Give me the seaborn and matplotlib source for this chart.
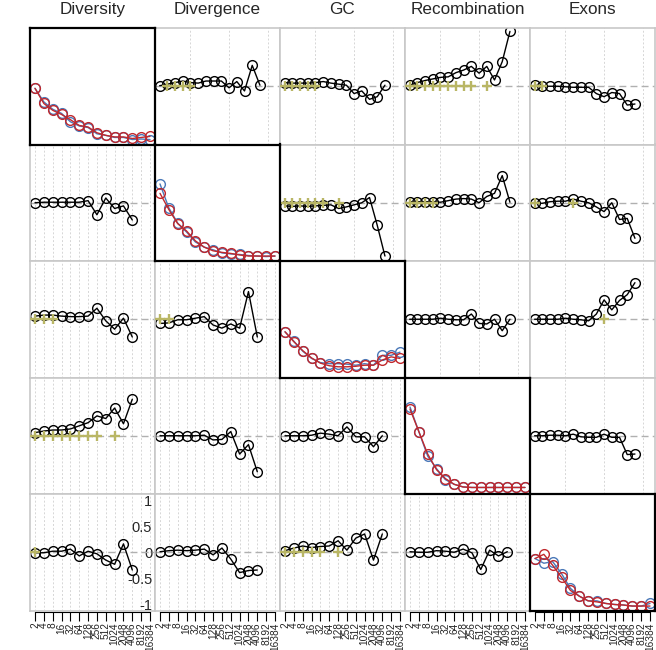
import numpy as np
import matplotlib.pyplot as plt
import seaborn as sns

features = ["Diversity", "Divergence", "GC", "Recombination", "Exons"]
scale_labels = ["2", "4", "8", "16", "32", "64", "128", "256", "512",
                "1024", "2048", "4096", "8192", "16384"]

# diagonal panels (14 scales): blue and red series
diag_red_diversity = [-0.04, -0.33, -0.46, -0.54, -0.64, -0.75, -0.78, -0.89, -0.94, -0.97, -0.97, -1.00, -0.98, -0.96]
diag_blue_diversity = [-0.04, -0.30, -0.44, -0.52, -0.68, -0.76, -0.79, -0.91, -0.94, -0.98, -0.98, -1.02, -1.01, -1.02]
diag_red_divergence = [0.18, -0.13, -0.40, -0.54, -0.73, -0.85, -0.92, -0.95, -0.97, -1.00, -1.02, -1.02, -1.02, -1.02]
diag_blue_divergence = [0.36, -0.10, -0.39, -0.56, -0.75, -0.85, -0.90, -0.96, -0.98, -0.99, -1.01, -1.02, -1.03, -1.02]
diag_red_gc = [-0.24, -0.43, -0.60, -0.74, -0.84, -0.89, -0.91, -0.91, -0.90, -0.88, -0.88, -0.78, -0.72, -0.75]
diag_blue_gc = [-0.24, -0.42, -0.61, -0.75, -0.83, -0.85, -0.85, -0.86, -0.88, -0.85, -0.88, -0.69, -0.69, -0.63]
diag_red_recomb = [0.51, 0.08, -0.35, -0.65, -0.82, -0.93, -0.98, -0.99, -0.99, -0.99, -0.99, -0.99, -0.99, -0.99]
diag_blue_recomb = [0.55, 0.08, -0.39, -0.63, -0.84, -0.93, -0.98, -0.99, -0.99, -0.99, -0.99, -0.99, -0.99, -0.99]
diag_red_exons = [-0.12, -0.04, -0.25, -0.48, -0.73, -0.84, -0.93, -0.95, -0.98, -1.00, -1.01, -1.03, -1.03, -1.03]
diag_blue_exons = [-0.12, -0.21, -0.18, -0.41, -0.69, -0.84, -0.93, -0.93, -0.98, -1.00, -1.01, -1.03, -1.03, -0.98]

# upper triangle (14 points each)
up_div_dvg = [0.01, 0.04, 0.07, 0.10, 0.07, 0.06, 0.10, 0.10, 0.10, -0.03, 0.09, -0.09, 0.40, 0.02]
up_div_gc = [0.07, 0.06, 0.06, 0.06, 0.07, 0.09, 0.06, 0.04, 0.02, -0.14, -0.09, -0.25, -0.20, 0.02]
up_div_rec = [0.02, 0.07, 0.11, 0.14, 0.17, 0.18, 0.26, 0.31, 0.38, 0.25, 0.38, 0.12, 0.47, 1.05]
up_div_exo = [0.02, 0.00, 0.00, 0.00, -0.01, -0.02, -0.02, -0.02, -0.14, -0.20, -0.12, -0.14, -0.36, -0.34]
up_dvg_gc = [-0.06, -0.07, -0.06, -0.07, -0.06, -0.05, -0.04, -0.11, -0.08, -0.04, 0.00, 0.10, -0.43, -1.02]
up_dvg_rec = [0.02, 0.02, 0.02, 0.02, 0.01, 0.04, 0.07, 0.08, 0.07, 0.00, 0.12, 0.18, 0.52, 0.01]
up_dvg_exo = [-0.01, -0.01, 0.02, 0.03, 0.03, 0.07, 0.03, 0.00, -0.08, -0.17, 0.00, -0.32, -0.30, -0.68]
up_gc_rec = [0.00, 0.00, 0.00, 0.00, 0.02, 0.00, -0.01, -0.01, 0.10, -0.08, -0.09, 0.00, -0.22, 0.00]
up_gc_exo = [0.00, 0.00, 0.00, 0.00, 0.02, 0.00, -0.01, -0.03, 0.10, 0.37, 0.18, 0.36, 0.47, 0.70]
up_rec_exo = [0.00, 0.00, 0.01, 0.01, 0.00, 0.03, -0.02, -0.03, -0.03, 0.03, -0.03, -0.03, -0.36, -0.35]

# lower triangle (12 points each, scales 2..4096)
lo_dvg_div = [0.00, 0.01, 0.01, 0.01, 0.01, 0.01, 0.04, -0.23, 0.09, -0.11, -0.06, -0.33]
lo_gc_div = [0.06, 0.08, 0.08, 0.06, 0.05, 0.05, 0.06, 0.21, -0.03, -0.19, 0.02, -0.34]
lo_gc_dvg = [-0.08, -0.07, -0.01, -0.01, 0.02, 0.05, -0.11, -0.17, -0.09, -0.17, 0.53, -0.34]
lo_rec_div = [0.06, 0.09, 0.11, 0.11, 0.13, 0.19, 0.25, 0.38, 0.33, 0.53, 0.23, 0.70]
lo_rec_dvg = [0.00, 0.00, 0.00, 0.00, 0.00, 0.01, -0.08, -0.07, 0.08, -0.35, -0.17, -0.69]
lo_rec_gc = [0.00, 0.00, 0.00, 0.01, 0.05, 0.03, 0.00, 0.17, -0.02, -0.02, -0.21, 0.00]
lo_exo_div = [-0.01, -0.01, 0.02, 0.02, 0.06, -0.07, 0.02, -0.03, -0.15, -0.23, 0.16, -0.34]
lo_exo_dvg = [0.01, 0.03, 0.04, 0.03, 0.04, 0.06, -0.05, 0.08, -0.13, -0.39, -0.35, -0.34]
lo_exo_gc = [0.03, 0.08, 0.12, 0.09, 0.11, 0.12, 0.22, 0.04, 0.27, 0.35, -0.15, 0.35]
lo_exo_rec = [0.01, 0.00, 0.00, 0.03, 0.02, 0.00, 0.06, -0.01, -0.33, 0.04, -0.07, 0.01]

# scale indices (0-based) marked with "+"
plus_div_dvg = [1, 2, 3, 4]
plus_div_gc = [0, 1, 2, 3, 4]
plus_div_rec = [0, 1, 2, 3, 4, 5, 6, 7, 8, 10]
plus_div_exo = [0, 1]
plus_dvg_gc = [0, 1, 2, 3, 4, 5, 7]
plus_dvg_rec = [0, 1, 2, 3]
plus_dvg_exo = [0, 5]
plus_gc_exo = [9]
plus_gc_div = [0, 1, 2]
plus_gc_dvg = [0, 1]
plus_rec_div = [0, 1, 2, 3, 4, 5, 6, 7, 9]
plus_exo_div = [0]
plus_exo_gc = [0, 1, 2, 3, 4, 6]

diag_red = [diag_red_diversity, diag_red_divergence, diag_red_gc, diag_red_recomb, diag_red_exons]
diag_blue = [diag_blue_diversity, diag_blue_divergence, diag_blue_gc, diag_blue_recomb, diag_blue_exons]
off_diag = {
    (0, 1): (up_div_dvg, plus_div_dvg), (0, 2): (up_div_gc, plus_div_gc),
    (0, 3): (up_div_rec, plus_div_rec), (0, 4): (up_div_exo, plus_div_exo),
    (1, 2): (up_dvg_gc, plus_dvg_gc), (1, 3): (up_dvg_rec, plus_dvg_rec),
    (1, 4): (up_dvg_exo, plus_dvg_exo), (2, 3): (up_gc_rec, []),
    (2, 4): (up_gc_exo, plus_gc_exo), (3, 4): (up_rec_exo, []),
    (1, 0): (lo_dvg_div, []), (2, 0): (lo_gc_div, plus_gc_div),
    (2, 1): (lo_gc_dvg, plus_gc_dvg), (3, 0): (lo_rec_div, plus_rec_div),
    (3, 1): (lo_rec_dvg, []), (3, 2): (lo_rec_gc, []),
    (4, 0): (lo_exo_div, plus_exo_div), (4, 1): (lo_exo_dvg, []),
    (4, 2): (lo_exo_gc, plus_exo_gc), (4, 3): (lo_exo_rec, []),
}

sns.set_style('white')
plt.rcParams['font.family'] = ['Liberation Sans', 'DejaVu Sans']

RED = '#c0282d'
BLUE = '#4a78b8'
OLIVE = '#b9b665'
FRAME = '#c8c8c8'
lower_xlim = (0.435, 14.565)
upper_xlim = (0.4, 16.6)
ylim = (-1.115, 1.115)
x_scales = np.arange(1, 15)

fig, axes = plt.subplots(5, 5, figsize=(6.56, 6.5), dpi=100)
fig.subplots_adjust(left=30/656, right=655/656, top=1-28/650, bottom=1-610.5/650,
                    wspace=0, hspace=0)

line_kw = dict(marker='o', markersize=7.0, markerfacecolor='none',
               markeredgewidth=1.0, linewidth=1.0)

for r in range(5):
    for c in range(5):
        ax = axes[r, c]
        ax.set_ylim(ylim)
        ax.set_xticks([])
        ax.set_yticks([])
        if r == c:
            ax.set_xlim(lower_xlim)
            sns.lineplot(x=x_scales, y=diag_blue[r], ax=ax, color=BLUE,
                         markeredgecolor=BLUE, **line_kw)
            sns.lineplot(x=x_scales, y=diag_red[r], ax=ax, color=RED,
                         markeredgecolor=RED, **line_kw)
            for s in ax.spines.values():
                s.set_color('black')
                s.set_linewidth(1.6)
            ax.set_zorder(2)
        else:
            vals, plus_idx = off_diag[(r, c)]
            xs = np.arange(1, len(vals) + 1)
            if r < c:
                ax.set_xlim(upper_xlim)
                grid_x = [5, 10, 15]
            else:
                ax.set_xlim(lower_xlim)
                grid_x = x_scales
            for g in grid_x:
                ax.axvline(g, color='#d6d6d6', linestyle=(0, (2, 2)), linewidth=0.7, zorder=0)
            ax.axhline(0, color='#b0b0b0', linestyle=(0, (5, 3)), linewidth=1.0, zorder=1)
            sns.lineplot(x=xs, y=vals, ax=ax, color='black',
                         markeredgecolor='black', zorder=2, **line_kw)
            if plus_idx:
                sns.scatterplot(x=xs[plus_idx], y=np.zeros(len(plus_idx)), ax=ax,
                                marker='+', s=60, color=OLIVE, linewidth=1.7, zorder=3)
            for s in ax.spines.values():
                s.set_color(FRAME)
                s.set_linewidth(1.2)
        ax.set_xlabel('')
        if r == 0:
            ax.set_title(features[c], fontsize=12.3, pad=10)
        if c == 0:
            ax.set_ylabel(features[r], fontsize=12.3, labelpad=10)

        if r == 4:
            sec = ax.secondary_xaxis('bottom')
            sec.set_xticks(x_scales, labels=scale_labels)
            sec.tick_params(axis='x', length=6.5, width=0.8, color='black',
                            labelsize=7.3, labelrotation=90, pad=1)
            sec.spines['bottom'].set_bounds(1, 14)
            sec.spines['bottom'].set_linewidth(0.8)
            sec.spines['bottom'].set_color('black')
            sec.spines['bottom'].set_position(('outward', 1))

ax = axes[4, 0]
ax.set_yticks([1, 0.5, 0, -0.5, -1], labels=['1', '0.5', '0', '-0.5', '-1'])
ax.yaxis.tick_right()
ax.tick_params(axis='y', length=0, labelsize=10.5, pad=-2)
for t in ax.get_yticklabels():
    t.set_horizontalalignment('right')

fig.savefig('out.png', dpi=100)
